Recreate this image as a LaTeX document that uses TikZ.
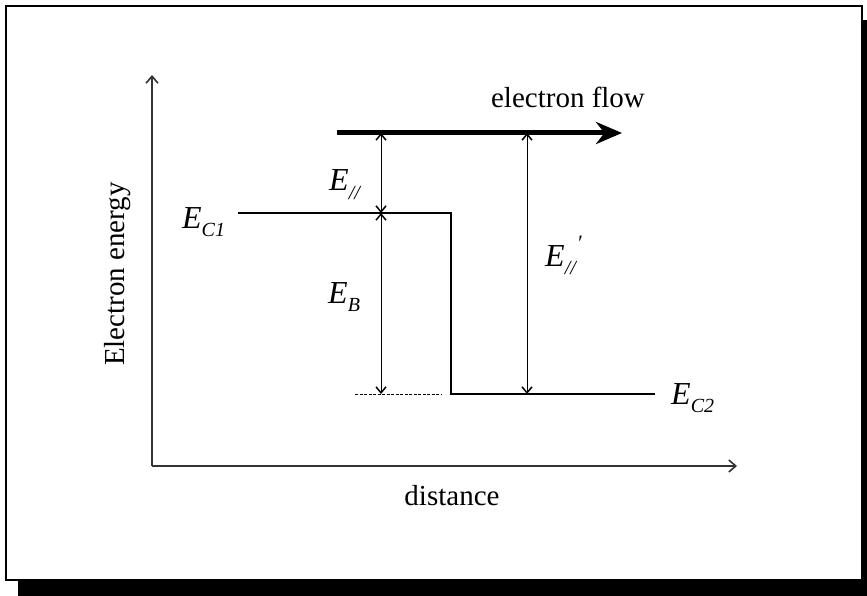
\documentclass[tikz,border=0pt]{standalone}
\usepackage{fontspec}
\setmainfont{Liberation Serif}
\usetikzlibrary{positioning,arrows.meta}
\newcommand\esub[1]{\raisebox{-0.28em}{\fontsize{20}{22}\selectfont\itshape #1}}
\newcommand\eprime{\raisebox{0.5em}{\fontsize{22}{24}\selectfont\kern1pt ′}}

\begin{document}
\begin{tikzpicture}[x=1pt,y=-1pt,
  lbl/.style={font=\fontsize{29}{34}\selectfont,inner sep=0pt},
  elbl/.style={font=\fontsize{32}{38}\selectfont\itshape,inner sep=0pt},
  axis/.style={-{Straight Barb[length=7pt,width=12pt,line width=1.6pt]},line width=1.3pt,black!80},
  level/.style={line width=2pt,black},
  dimarr/.style={{Straight Barb[length=6pt,width=10pt,line width=1.5pt]}-{Straight Barb[length=6pt,width=10pt,line width=1.5pt]},line width=0.9pt},
  flow/.style={-{Stealth[length=26pt,width=22pt]},line width=5pt}
]
\useasboundingbox (0,0) rectangle (867,596);
% frame with shadow
\fill[black] (18,20) rectangle (870,600);
\draw[fill=white,line width=2.5pt] (6,6) rectangle (862,580);

% axes
\coordinate (orig) at (152,466);
\coordinate (ytop) at (152,75);
\coordinate (xend) at (737,466);
\draw[axis] (orig)--(ytop);
\draw[axis] (orig)--(xend);
\node[lbl,rotate=90] (ylab) at (118,274) {Electron energy};
\node[lbl] (xlab) at (452,496) {distance};

% band edges
\coordinate (c1L)   at (238,213);
\coordinate (stepT) at (451,213);
\coordinate (stepB) at (451,394);
\coordinate (c2R)   at (655,394);
\coordinate (dashL) at (355,394);
\coordinate (dashR) at (441,394);
\draw[level] (c1L)--(stepT)--(stepB)--(c2R);
\draw[line width=1pt,dash pattern=on 3pt off 1.5pt] (dashL)--(dashR);
\node[elbl,anchor=base west] (ec1) at (182,228) {E\esub{C1}};
\node[elbl,anchor=base west] (ec2) at (671,404) {E\esub{C2}};

% electron flow
\coordinate (flowL) at (337,133);
\coordinate (flowR) at (622,133);
\draw[flow] (flowL)--(flowR);
\node[lbl] (flowlab) at (568,97) {electron flow};

% energy differences
\coordinate (d1top) at (381,133);
\coordinate (d1mid) at (381,213);
\coordinate (d1bot) at (381,394);
\coordinate (d2top) at (527,133);
\coordinate (d2bot) at (527,394);
\draw[dimarr] (d1top)--(d1mid);
\draw[dimarr] (d1mid)--(d1bot);
\draw[dimarr] (d2top)--(d2bot);
\node[elbl,anchor=base west] (epar) at (329,191) {E\esub{//}};
\node[elbl,anchor=base west] (eb) at (328,303) {E\esub{B}};
\node[elbl,anchor=base west] (epar2) at (545,266) {E\esub{//}\eprime};
\end{tikzpicture}
\end{document}
